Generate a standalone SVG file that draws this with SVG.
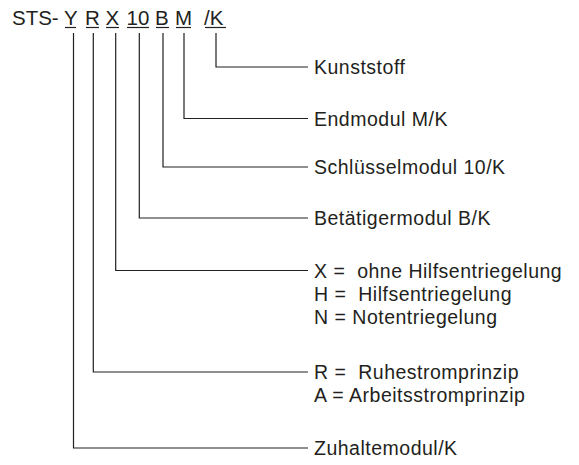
<svg xmlns="http://www.w3.org/2000/svg" width="579" height="465" viewBox="0 0 579 465">
<style>
.t{font-family:"Liberation Sans",Arial,sans-serif;font-size:19.5px;fill:#231f20;letter-spacing:0.5px;white-space:pre}
.h{font-family:"Liberation Sans",Arial,sans-serif;font-size:20.5px;fill:#231f20;white-space:pre}
.c{fill:none;stroke:#231f20;stroke-width:1.2}
.u{stroke:#231f20;stroke-width:1.2}
</style>
<rect width="579" height="465" fill="#fff"/>
<g id="code">
<text class="h" x="12" y="24.5">STS-</text>
<text class="h" x="64" y="24.5">Y</text>
<text class="h" x="85" y="24.5">R</text>
<text class="h" x="105.5" y="24.5">X</text>
<text class="h" x="126.5" y="24.5">10</text>
<text class="h" x="155" y="24.5">B</text>
<text class="h" x="175" y="24.5">M</text>
<text class="h" x="204" y="24.5">/K</text>
<line class="u" x1="65" y1="27.5" x2="76" y2="27.5"/>
<line class="u" x1="86" y1="27.5" x2="99" y2="27.5"/>
<line class="u" x1="106" y1="27.5" x2="119" y2="27.5"/>
<line class="u" x1="127" y1="27.5" x2="149" y2="27.5"/>
<line class="u" x1="156" y1="27.5" x2="169" y2="27.5"/>
<line class="u" x1="176" y1="27.5" x2="191" y2="27.5"/>
<line class="u" x1="205" y1="27.5" x2="226" y2="27.5"/>
</g>
<g id="connectors">
<path class="c" d="M216 33V67H308"/>
<path class="c" d="M184 33V118.5H308"/>
<path class="c" d="M163 33V167H308"/>
<path class="c" d="M139.3 33V218H308"/>
<path class="c" d="M115.7 33V270.5H308"/>
<path class="c" d="M93.3 33V372H308"/>
<path class="c" d="M73.5 33V448H308"/>
</g>
<g id="kunststoff"><text class="t" x="314" y="74">Kunststoff</text></g>
<g id="endmodul"><text class="t" x="314" y="125.5">Endmodul M/K</text></g>
<g id="schluesselmodul"><text class="t" x="314" y="174">Schlüsselmodul 10/K</text></g>
<g id="betaetigermodul"><text class="t" x="314" y="225">Betätigermodul B/K</text></g>
<g id="entriegelung">
<text class="t" x="314" y="277.5">X =  ohne Hilfsentriegelung</text>
<text class="t" x="314" y="300.5">H =  Hilfsentriegelung</text>
<text class="t" x="314" y="323.5">N = Notentriegelung</text>
</g>
<g id="prinzip">
<text class="t" x="314" y="379">R =  Ruhestromprinzip</text>
<text class="t" x="314" y="402">A = Arbeitsstromprinzip</text>
</g>
<g id="zuhaltemodul"><text class="t" x="314" y="455">Zuhaltemodul/K</text></g>
</svg>
